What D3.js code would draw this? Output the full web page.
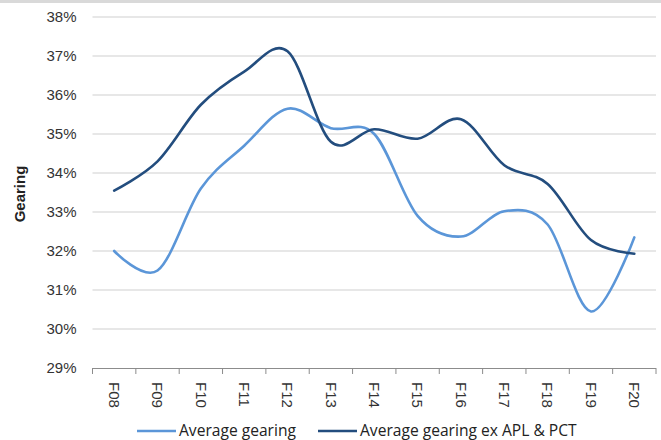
<!DOCTYPE html>
<html>
<head>
<meta charset="utf-8">
<script src="https://cdn.jsdelivr.net/npm/d3@7"></script>
<style>
  html, body { margin: 0; padding: 0; background: #fff; }
  svg { display: block; font-family: "Liberation Sans", Arial, sans-serif; }
</style>
</head>
<body>
<svg id="chart" width="661" height="440"></svg>
<script>
// Fiscal years on the category axis
const years = ["F08","F09","F10","F11","F12","F13","F14","F15","F16","F17","F18","F19","F20"];
// Gearing, in percent
const avgGearing   = [32.0, 31.5, 33.6, 34.7, 35.65, 35.15, 35.0, 32.9, 32.37, 33.02, 32.68, 30.45, 32.35];
const avgGearingEx = [33.55, 34.3, 35.75, 36.6, 37.12, 34.8, 35.12, 34.88, 35.38, 34.2, 33.72, 32.28, 31.93];
const yTicks = [29, 30, 31, 32, 33, 34, 35, 36, 37, 38];
const seriesNames = ["Average gearing", "Average gearing ex APL & PCT"];
const seriesColors = ["#5b96d8", "#234d7e"];

const svg = d3.select("#chart");
const W = 661, H = 440;
const plot = { left: 92.5, right: 656, top: 17, bottom: 368 };

// Top border strip
svg.append("rect").attr("x", 0).attr("y", 0).attr("width", W).attr("height", 3).attr("fill", "#d9d9d9");

const x = d3.scaleBand().domain(years).range([plot.left, plot.right]);
const y = d3.scaleLinear().domain([29, 38]).range([plot.bottom, plot.top]);

// Horizontal gridlines
svg.append("g").selectAll("line")
  .data(yTicks.filter(t => t !== 29))
  .join("line")
  .attr("x1", plot.left).attr("x2", plot.right)
  .attr("y1", d => y(d)).attr("y2", d => y(d))
  .attr("stroke", "#d0d0d0").attr("stroke-width", 1.2);

// Y axis labels
const yAxis = d3.axisLeft(y).tickValues(yTicks).tickFormat(d => d + "%").tickSize(0).tickPadding(16);
const gy = svg.append("g").attr("transform", `translate(${plot.left},0)`).call(yAxis);
gy.select(".domain").remove();
gy.selectAll("text").attr("font-size", 15).attr("fill", "#333")
  .attr("font-family", "'Liberation Sans', Arial, sans-serif");

// X axis with category boundary ticks
const gx = svg.append("g").attr("transform", `translate(0,${plot.bottom})`);
gx.append("line").attr("x1", plot.left).attr("x2", plot.right).attr("y1", 0.5).attr("y2", 0.5)
  .attr("stroke", "#8c8c8c").attr("stroke-width", 1);
const bounds = years.map(d => x(d)).concat([x(years[years.length - 1]) + x.bandwidth()]);
gx.selectAll("line.tick").data(bounds).join("line")
  .attr("class", "tick")
  .attr("x1", d => d).attr("x2", d => d).attr("y1", 0).attr("y2", 6)
  .attr("stroke", "#8c8c8c").attr("stroke-width", 1);
gx.selectAll("text").data(years).join("text")
  .attr("transform", d => `translate(${x(d) + x.bandwidth() / 2},14) rotate(90)`)
  .attr("dy", "0.35em")
  .attr("font-size", 15).attr("fill", "#333")
  .text(d => d);

// Y axis title
svg.append("text")
  .attr("transform", `translate(25,194) rotate(-90)`)
  .attr("text-anchor", "middle")
  .attr("font-size", 15).attr("font-weight", "bold").attr("fill", "#222")
  .text("Gearing");

// Smoothed lines
const line = d3.line()
  .x((d, i) => x(years[i]) + x.bandwidth() / 2)
  .y(d => y(d))
  .curve(d3.curveCardinal.tension(0));

[avgGearing, avgGearingEx].forEach((vals, i) => {
  svg.append("path").datum(vals)
    .attr("d", line)
    .attr("fill", "none")
    .attr("stroke", seriesColors[i])
    .attr("stroke-width", 2.6)
    .attr("stroke-linecap", "round");
});

// Legend
const legendItems = [{ x: 137, name: seriesNames[0], color: seriesColors[0] },
                     { x: 318, name: seriesNames[1], color: seriesColors[1] }];
const lg = svg.append("g").attr("transform", "translate(0,431)");
legendItems.forEach(it => {
  lg.append("line").attr("x1", it.x).attr("x2", it.x + 39).attr("y1", 0).attr("y2", 0)
    .attr("stroke", it.color).attr("stroke-width", 2.5);
  lg.append("text").attr("x", it.x + 42).attr("y", 0).attr("dy", "0.35em")
    .attr("font-family", "'Open Sans', sans-serif")
    .attr("font-size", 15.6).attr("fill", "#222").text(it.name);
});
</script>
</body>
</html>
